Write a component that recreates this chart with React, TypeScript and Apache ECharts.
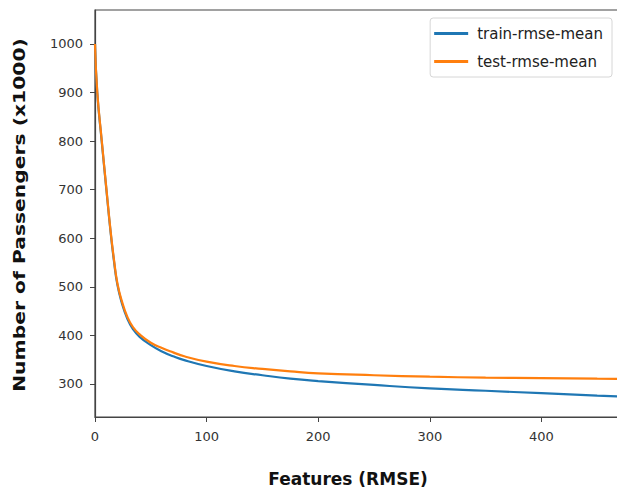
import React, { useEffect, useRef } from "react";
import * as echarts from "echarts";

const xValues = [0, 2, 6, 10, 14, 17, 20, 24, 29, 34, 40, 50, 60, 70, 80, 100, 125, 150, 175, 200, 250, 300, 350, 400, 450, 499];
const trainRmse = [1000, 900, 800, 705, 612, 553, 505, 467, 434, 413, 397, 380, 367, 357, 349, 337, 326, 318, 311, 306, 298, 291, 286, 281, 276, 272];
const testRmse = [1000, 902, 802, 707, 614, 556, 508, 471, 438, 417, 402, 385, 374, 365, 357, 346, 337, 331, 326, 322, 318, 315, 313, 312, 311, 310];
const xTicks = [0, 100, 200, 300, 400];
const yTicks = [300, 400, 500, 600, 700, 800, 900, 1000];
const seriesNames = ["train-rmse-mean", "test-rmse-mean"];
const xTitle = "Features (RMSE)";
const yTitle = "Number of Passengers (x1000)";

export default function App() {
  const ref = useRef<HTMLDivElement>(null);
  useEffect(() => {
    document.body.style.margin = "0";
    const chart = echarts.init(ref.current!, null, { renderer: "svg" });
    const font = "DejaVu Sans";
    chart.setOption({
      animation: false,
      backgroundColor: "#ffffff",
      grid: {
        left: 95,
        top: 10,
        width: 558,
        height: 407,
        show: true,
        borderColor: "#444",
        borderWidth: 1.2,
        containLabel: false,
        outerBoundsMode: "none",
      },
      legend: {
        orient: "vertical",
        right: 5,
        top: 18,
        padding: [8, 9, 8, 4],
        itemGap: 13,
        itemWidth: 34,
        itemHeight: 3,
        icon: "rect",
        borderColor: "#d6d6d6",
        borderWidth: 1,
        borderRadius: 3,
        textStyle: { fontFamily: font, fontSize: 15, color: "#222", padding: [0, 0, 0, 4] },
        data: seriesNames,
      },
      xAxis: {
        type: "value",
        min: 0,
        max: 500,
        interval: 100,
        splitLine: { show: false },
        axisLine: { lineStyle: { color: "#444", width: 1.2 } },
        axisTick: { show: true, length: 5, lineStyle: { color: "#444" }, customValues: xTicks },
        axisLabel: { fontFamily: font, fontSize: 13, color: "#333", margin: 13, customValues: xTicks },
      },
      yAxis: {
        type: "value",
        min: 232,
        max: 1070,
        splitLine: { show: false },
        axisLine: { show: true, lineStyle: { color: "#444", width: 1.2 } },
        axisTick: { show: true, length: 5, lineStyle: { color: "#444" }, customValues: yTicks },
        axisLabel: {
          fontFamily: font,
          fontSize: 13,
          color: "#333",
          margin: 12,
          customValues: yTicks,
          formatter: (v: number) => String(v),
        },
      },
      graphic: [
        {
          type: "text",
          x: 348,
          y: 479,
          style: {
            text: xTitle,
            font: `bold 17px "${font}"`,
            fill: "#111",
            align: "center",
            verticalAlign: "middle",
          },
        },
        {
          type: "text",
          x: 19,
          y: 215,
          rotation: Math.PI / 2,
          scaleX: 1.27,
          style: {
            text: yTitle,
            font: `bold 16px "${font}"`,
            fill: "#111",
            align: "center",
            verticalAlign: "middle",
          },
        },
      ],
      series: [
        {
          name: seriesNames[0],
          type: "line",
          smooth: true,
          showSymbol: false,
          color: "#1f77b4",
          lineStyle: { width: 2.2, color: "#1f77b4" },
          data: xValues.map((x, i) => [x, trainRmse[i]]),
        },
        {
          name: seriesNames[1],
          type: "line",
          smooth: true,
          showSymbol: false,
          color: "#ff7f0e",
          lineStyle: { width: 2.2, color: "#ff7f0e" },
          data: xValues.map((x, i) => [x, testRmse[i]]),
        },
      ],
    });
    return () => chart.dispose();
  }, []);
  return <div ref={ref} style={{ width: 617, height: 491 }} />;
}
